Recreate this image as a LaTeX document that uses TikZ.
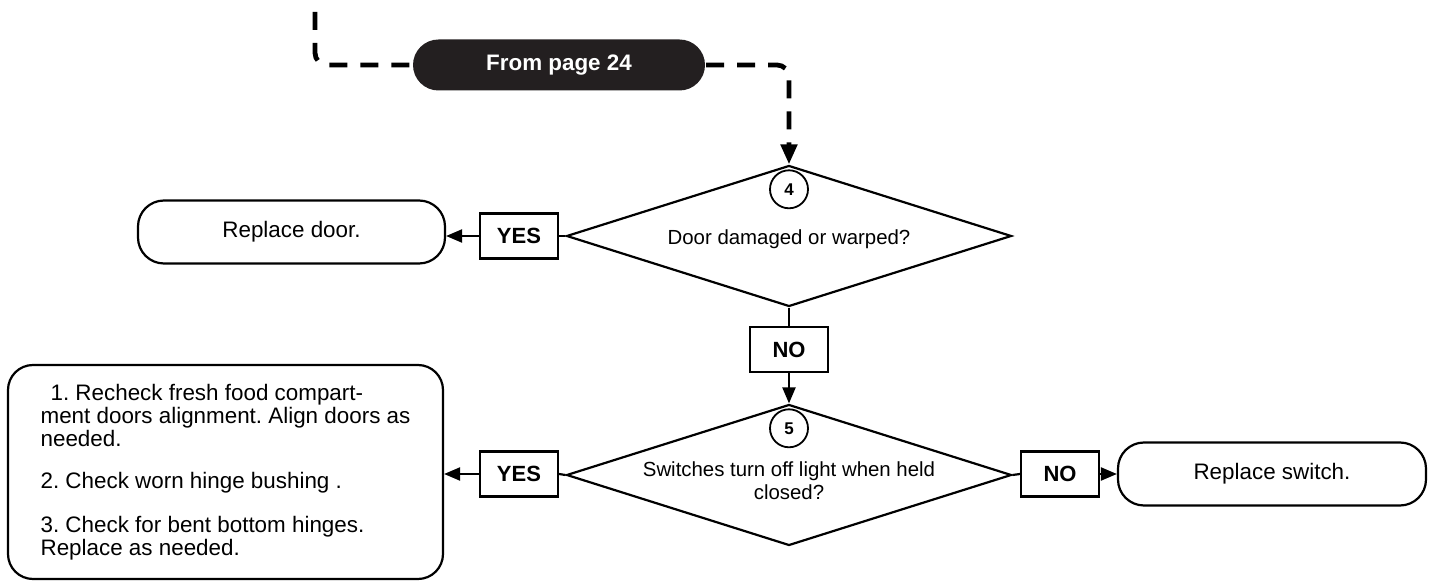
\documentclass[tikz,border=0pt]{standalone}
\usepackage{fontspec}
\setmainfont{Liberation Sans}
\usepackage{tikz}
\usetikzlibrary{shapes.geometric, arrows.meta, positioning}
\definecolor{PillBlack}{RGB}{35, 31, 32}
\frenchspacing

\begin{document}
\begin{tikzpicture}[x=0.5pt, y=-0.5pt, line width=1.1pt,
    judge/.style={diamond, draw, inner sep=0pt, minimum width=222.5pt, minimum height=70.5pt},
    answer/.style={draw, inner sep=0pt, minimum width=39pt, minimum height=22.5pt, font=\fontsize{11}{13}\selectfont\bfseries},
    result/.style={draw, rounded corners=13pt, inner sep=0pt, minimum height=31.5pt, font=\fontsize{11.2}{13}\selectfont},
    stepnum/.style={circle, draw, line width=0.9pt, inner sep=0pt, minimum size=19pt, font=\fontsize{8.5}{10}\selectfont\bfseries},
    question/.style={align=center, font=\fontsize{10.2}{11.5}\selectfont},
    flow/.style={-{Triangle[length=8pt, width=6.5pt]}},
    jump/.style={line width=2.4pt, dash pattern=on 9pt off 6.5pt, rounded corners=6pt}]
    \useasboundingbox (0,0) rectangle (1432,582);

    % 入口 (上一页)
    \coordinate (entry) at (315,12);
    \node[fill=PillBlack, rounded corners=12.75pt, minimum width=146pt, minimum height=25.5pt,
          text=white, font=\fontsize{11.2}{13}\selectfont\bfseries] (pill) at (559,65) {From page 24};

    % 判断 4
    \node[judge] (d1) at (789,236) {};
    \node[stepnum, below=2.5pt of d1.north] (n4) {4};
    \node[question] (q1) at (789,239) {Door damaged or warped?};
    \node[answer] (yes1) at (519,236) {YES};
    \node[result, minimum width=153.5pt] (door) at (291.5,232) {Replace door.};
    \node[answer] (no1) at (789,349.5) {NO};

    % 判断 5
    \node[judge] (d2) at (789,475) {};
    \node[stepnum, below=2.5pt of d2.north] (n5) {5};
    \node[question] (q2) at (789,481) {Switches turn off light when held\\closed?};
    \node[answer] (yes2) at (519,474) {YES};
    \node[answer] (no2) at (1060,474) {NO};
    \node[result, minimum width=154pt] (switch) at (1272,474) {Replace switch.};
    \node[draw, rounded corners=12.5pt, minimum width=217.5pt, minimum height=107pt, inner sep=0pt,
          align=left, font=\fontsize{11.2}{10.3}\selectfont] (fix) at (225.5,472)
        {\hspace*{5pt}1. Recheck fresh food compart-\\
         ment doors alignment. Align doors as\\
         needed.\\[10.7pt]
         2. Check worn hinge bushing .\\[10.7pt]
         3. Check for bent bottom hinges.\\
         Replace as needed.};

    % 虚线入口
    \draw[jump] (entry) |- (pill.west);
    \draw[jump, -{Triangle[length=10pt, width=8pt]}] (pill.east) -| (d1.north);

    % 连线
    \draw (d1.west) -- (yes1.east);
    \draw[flow] (yes1.west) -- (yes1.west -| door.east);
    \draw (d1.south) -- (no1.north);
    \draw[flow] (no1.south) -- (d2.north);
    \draw (d2.west) -- (yes2.east);
    \draw[flow] (yes2.west) -- (yes2.west -| fix.east);
    \draw (d2.east) -- (no2.west);
    \draw[flow] (no2.east) -- (no2.east -| switch.west);
\end{tikzpicture}
\end{document}
